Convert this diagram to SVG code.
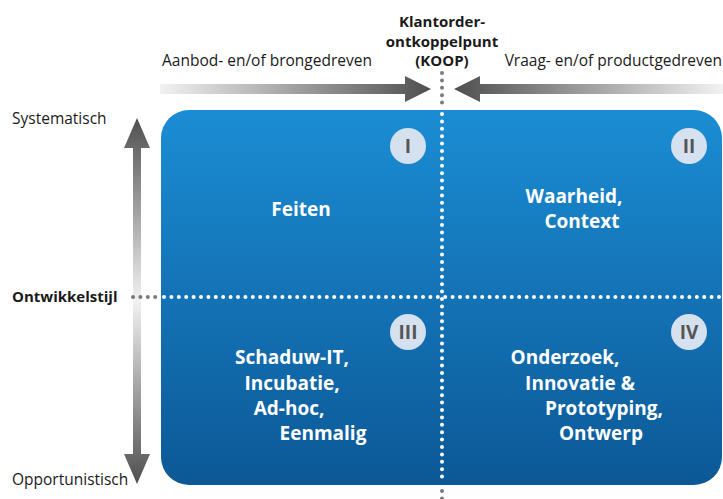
<svg xmlns="http://www.w3.org/2000/svg" width="723" height="499" viewBox="0 0 723 499">
  <defs>
    <linearGradient id="boxFill" x1="0" y1="0" x2="0" y2="1">
      <stop offset="0" stop-color="#1b8dd4"/>
      <stop offset="1" stop-color="#0c5896"/>
    </linearGradient>
    <linearGradient id="leftArrow" gradientUnits="userSpaceOnUse" x1="160" y1="0" x2="430" y2="0">
      <stop offset="0" stop-color="#f2f2f2"/>
      <stop offset="1" stop-color="#4f4f4f"/>
    </linearGradient>
    <linearGradient id="rightArrow" gradientUnits="userSpaceOnUse" x1="723" y1="0" x2="455" y2="0">
      <stop offset="0" stop-color="#f2f2f2"/>
      <stop offset="1" stop-color="#4f4f4f"/>
    </linearGradient>
    <linearGradient id="vertArrow" gradientUnits="userSpaceOnUse" x1="0" y1="118" x2="0" y2="484">
      <stop offset="0" stop-color="#4f4f4f"/>
      <stop offset="0.5" stop-color="#f2f2f2"/>
      <stop offset="1" stop-color="#4f4f4f"/>
    </linearGradient>
  </defs>
  <style>
    .lbl { font-family: "Open Sans", "Liberation Sans", Arial, sans-serif; font-size: 15.5px; fill: #1a1a1a; }
    .bold { font-weight: bold; font-size: 15px; }
    .quad { font-family: "Open Sans", "Liberation Sans", Arial, sans-serif; font-size: 19px; font-weight: bold; fill: #ffffff; }
    .badge circle { fill: #d5e1ef; }
    .badge text { font-family: "Open Sans", "Liberation Sans", Arial, sans-serif; font-size: 19px; font-weight: bold; fill: #555555; text-anchor: middle; }
    .dots-out { stroke: #7a7a7a; stroke-width: 4; stroke-linecap: round; stroke-dasharray: 0 7.4; fill: none; }
    .dots-in { stroke: #ffffff; stroke-width: 4; stroke-linecap: round; stroke-dasharray: 0 7.4; fill: none; }
  </style>

  <!-- quadrant field -->
  <g id="field">
    <rect x="161" y="110" width="561" height="375" rx="28" ry="28" fill="url(#boxFill)"/>
  </g>

  <!-- arrows and dotted axes -->
  <g id="connectors">
    <path d="M160 84 H405 V76 L431 89 L405 102 V94 H160 Z" fill="url(#leftArrow)"/>
    <path d="M723 84 H480 V76 L454 89 L480 102 V94 H723 Z" fill="url(#rightArrow)"/>
    <path d="M133 483 V148 H124 L137 118 L150 148 H141 V454 H150 L137 484 L124 454 H133 Z" fill="url(#vertArrow)"/>
    <line class="dots-out" x1="442" y1="73" x2="442" y2="107"/>
    <line class="dots-in" x1="442" y1="114" x2="442" y2="484"/>
    <line class="dots-out" x1="442" y1="491" x2="442" y2="499"/>
    <line class="dots-out" x1="133" y1="297" x2="157" y2="297"/>
    <line class="dots-in" x1="164" y1="297" x2="723" y2="297"/>
  </g>

  <!-- axis labels -->
  <g id="koop">
    <text class="lbl bold" x="442" y="27" text-anchor="middle">Klantorder-</text>
    <text class="lbl bold" x="442" y="47" text-anchor="middle">ontkoppelpunt</text>
    <text class="lbl bold" x="442" y="66" text-anchor="middle">(KOOP)</text>
  </g>
  <g id="aanbod"><text class="lbl" x="162" y="66">Aanbod- en/of brongedreven</text></g>
  <g id="vraag"><text class="lbl" x="722" y="66" text-anchor="end">Vraag- en/of productgedreven</text></g>
  <g id="systematisch"><text class="lbl" x="12" y="124">Systematisch</text></g>
  <g id="ontwikkelstijl"><text class="lbl bold" x="12" y="302">Ontwikkelstijl</text></g>
  <g id="opportunistisch"><text class="lbl" x="12" y="485">Opportunistisch</text></g>

  <!-- quadrant I -->
  <g id="q1">
    <g class="badge"><circle cx="408" cy="146" r="18"/><text x="408" y="153">I</text></g>
    <text class="quad" x="301" y="216" text-anchor="middle">Feiten</text>
  </g>
  <!-- quadrant II -->
  <g id="q2">
    <g class="badge"><circle cx="689" cy="146" r="18"/><text x="689" y="153">II</text></g>
    <text class="quad" x="574" y="203" text-anchor="middle">Waarheid,</text>
    <text class="quad" x="582" y="228" text-anchor="middle">Context</text>
  </g>
  <!-- quadrant III -->
  <g id="q3">
    <g class="badge"><circle cx="408" cy="332" r="18"/><text x="408" y="339">III</text></g>
    <text class="quad" x="292" y="364" text-anchor="middle">Schaduw-IT,</text>
    <text class="quad" x="292" y="390" text-anchor="middle">Incubatie,</text>
    <text class="quad" x="289" y="415" text-anchor="middle">Ad-hoc,</text>
    <text class="quad" x="323" y="440" text-anchor="middle">Eenmalig</text>
  </g>
  <!-- quadrant IV -->
  <g id="q4">
    <g class="badge"><circle cx="689" cy="332" r="18"/><text x="689" y="339">IV</text></g>
    <text class="quad" x="565" y="364" text-anchor="middle">Onderzoek,</text>
    <text class="quad" x="580" y="390" text-anchor="middle">Innovatie &amp;</text>
    <text class="quad" x="604" y="415" text-anchor="middle">Prototyping,</text>
    <text class="quad" x="601" y="440" text-anchor="middle">Ontwerp</text>
  </g>
</svg>
